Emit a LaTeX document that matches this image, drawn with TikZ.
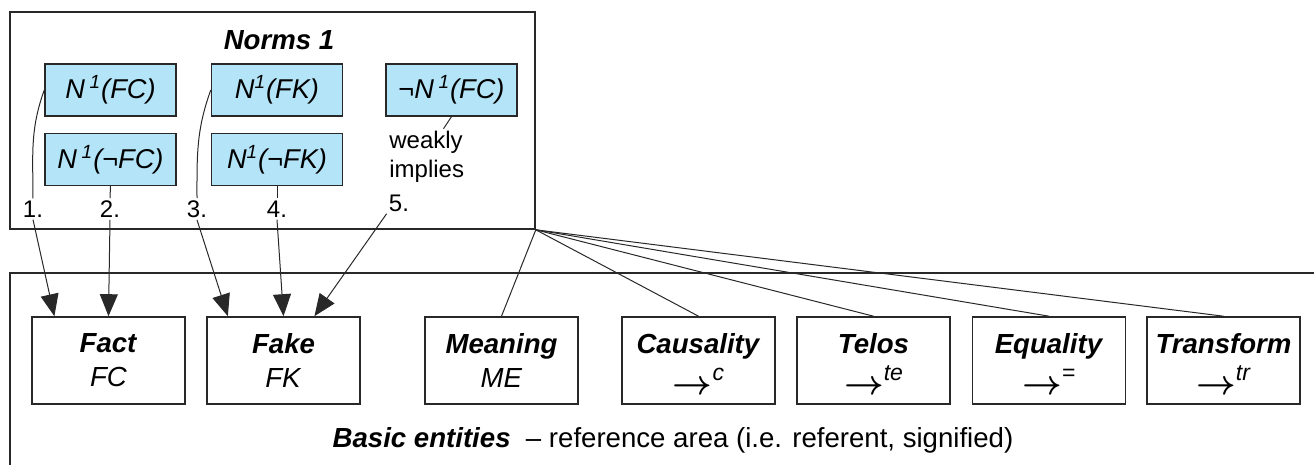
\documentclass[tikz,border=0pt]{standalone}
\usepackage{fontspec}
\setmainfont{Liberation Sans}
\usepackage{tikz}
\usetikzlibrary{arrows.meta, calc}
\usepackage{xcolor}
\definecolor{normblue}{RGB}{180,228,247}
\definecolor{linegray}{RGB}{40,40,40}
\newcommand{\relarrow}[1]{\vphantom{FC}\smash{\raisebox{-3.8pt}{\fontsize{16}{17}\selectfont\boldmath$\rightarrow$}\raisebox{3.6pt}{\fontsize{11.5}{12}\selectfont #1}}}

\begin{document}
\begin{tikzpicture}[x=0.5pt, y=-0.5pt,
        every node/.style={font=\fontsize{13.8}{16}\selectfont},
        normbox/.style={draw=linegray, line width=0.7pt, fill=normblue, minimum width=65.5pt, minimum height=26pt, inner sep=0pt, font=\fontsize{13.6}{16}\selectfont\itshape},
        entity/.style={draw=linegray, line width=0.8pt, minimum width=76.5pt, minimum height=43.5pt, inner sep=0pt, align=center, font=\fontsize{13.8}{17}\selectfont},
        numlabel/.style={inner sep=1pt, font=\fontsize{12}{14}\selectfont},
        arr/.style={-{Triangle[length=11pt, width=9pt]}, line width=0.5pt, draw=linegray},
        link/.style={line width=0.5pt, draw=linegray}]

                \useasboundingbox (0,0) rectangle (1314,465);

                % reference area
                \draw[line width=0.8pt, draw=linegray] (1314,273) -- (10,273) -- (10,465);

                % norms box
                \node[draw=linegray, line width=0.8pt, minimum width=262.5pt, minimum height=108.5pt, inner sep=0pt] (norms) at (272.5,120.5) {};
                \node[font=\fontsize{13.8}{16}\selectfont\bfseries\itshape] (normstitle) at (279,40) {Norms 1};

                \node[normbox] (nfc) at (110.5,90) {N\,\textsuperscript{1}(FC)};
                \node[normbox] (nnfc) at (110.5,159.5) {N\,\textsuperscript{1}(¬FC)};
                \node[normbox] (nfk) at (277,90) {N\textsuperscript{1}(FK)};
                \node[normbox] (nnfk) at (277,159.5) {N\textsuperscript{1}(¬FK)};
                \node[normbox] (notnfc) at (451.5,90) {¬N\,\textsuperscript{1}(FC)};

                \node[anchor=north west, align=left, inner sep=0pt, font=\fontsize{12}{14.5}\selectfont] (weak) at (389,131) {weakly\\implies};

                % numbered links
                \node[numlabel] (l1) at (33,209) {1.};
                \node[numlabel] (l2) at (110,209) {2.};
                \node[numlabel] (l3) at (197,209) {3.};
                \node[numlabel] (l4) at (277,209) {4.};
                \node[numlabel] (l5) at (399,203) {5.};

                % basic entities
                \node[entity] (fact) at (108.5,360.5) {\textbf{\textit{Fact}}\\\textit{FC}};
                \node[entity] (fake) at (283.5,360.5) {\textbf{\textit{Fake}}\\\textit{FK}};
                \node[entity] (meaning) at (501.5,360.5) {\textbf{\textit{Meaning}}\\\textit{ME}};
                \node[entity] (causality) at (698.5,360.5) {\textbf{\textit{Causality}}\\\relarrow{\textit{c}}};
                \node[entity] (telos) at (873.5,360.5) {\textbf{\textit{Telos}}\\\relarrow{\textit{te}}};
                \node[entity] (equality) at (1049,360.5) {\textbf{\textit{Equality}}\\\relarrow{=}};
                \node[entity] (transform) at (1223.5,360.5) {\textbf{\textit{Transform}}\\\relarrow{\textit{tr}}};

                \node (basic) at (673,440) {\textbf{\textit{Basic entities}}\ \ – reference area (i.e. referent, signified)};

                % norms to facts and fakes
                \draw[link] (nfc.west) to[out=250, in=90] (l1.north);
                \draw[arr] (l1.south) -- ($ (fact.north west)!0.15!(fact.north east) $);
                \draw[link] (nnfc.south) -- (l2.north);
                \draw[arr] (l2.south) -- (fact.north);
                \draw[link] (nfk.west) to[out=250, in=90] (l3.north);
                \draw[arr] (l3.south) -- ($ (fake.north west)!0.14!(fake.north east) $);
                \draw[link] (nnfk.south) -- (l4.north);
                \draw[arr] (l4.south) -- (fake.north);
                \draw[link] (notnfc.south) -- ($ (notnfc.south) + (-8,12) $);
                \draw[arr] (l5.south west) -- ($ (fake.north west)!0.7!(fake.north east) $);

                % norms to the other entities
                \draw[link] (norms.south east) -- (meaning.north);
                \draw[link] (norms.south east) -- (causality.north);
                \draw[link] (norms.south east) -- (telos.north);
                \draw[link] (norms.south east) -- (equality.north);
                \draw[link] (norms.south east) -- (transform.north);

\end{tikzpicture}
\end{document}
